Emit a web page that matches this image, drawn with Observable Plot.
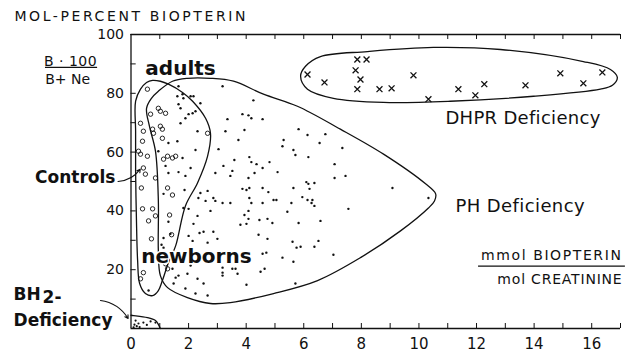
<!DOCTYPE html>
<html><head><meta charset="utf-8">
<script src="https://cdn.jsdelivr.net/npm/d3@7"></script>
<script src="https://cdn.jsdelivr.net/npm/@observablehq/plot@0.6"></script>
<style>body{margin:0;background:#fff;}</style>
</head><body>
<script>
// ---- data (x: mmol biopterin / mol creatinine, y: mol-percent biopterin) ----
const phDots = [[1.65,82.4],[3.18,82.4],[1.61,79.0],[1.79,79.7],[1.82,78.3],[2.07,79.0],[2.17,79.0],[2.41,76.6],[1.65,76.3],[1.72,74.9],[2.00,72.9],[2.14,73.2],[2.24,73.9],[1.89,71.5],[1.72,69.8],[3.35,71.2],[2.31,67.1],[3.28,67.1],[1.30,63.1],[1.61,63.7],[2.24,60.7],[3.04,61.0],[1.79,58.0],[0.95,60.3],
[1.20,55.3],[1.30,52.9],[1.65,53.2],[2.07,54.6],[1.89,51.9],[2.93,52.9],[3.21,55.3],[3.52,53.6],[1.13,45.8],[1.86,47.1],[2.41,46.1],[2.66,46.8],[2.34,44.4],[2.59,43.4],[2.86,44.4],[2.93,43.4],[2.76,40.0],[3.18,42.7],[3.45,42.7],[1.82,41.0],[2.00,40.7],[2.31,38.3],[1.30,36.3],[2.17,35.6],[2.38,32.5],[2.52,32.9],[2.86,32.9],[1.13,30.8],[2.00,31.5],[2.14,29.8],[2.66,29.2],[3.00,30.5],[1.06,28.5],
[1.44,20.3],[1.55,17.3],[1.65,18.0],[1.96,18.6],[2.07,21.4],[2.31,16.9],[2.52,15.3],[1.89,13.6],[1.48,15.3],[0.61,12.9],[3.18,20.7],[3.18,19.0],[3.18,18.0],[3.52,20.3],[2.66,11.2],[2.24,11.9],[1.13,27.5],[1.37,32.2],
[4.25,77.6],[3.87,72.9],[4.08,72.5],[4.18,71.5],[4.57,71.2],[3.94,67.5],[3.73,64.1],[5.82,67.8],[6.13,65.8],[6.75,66.1],[6.55,63.1],[5.30,64.1],[5.26,62.0],[5.64,60.7],[5.71,59.0],[6.16,58.3],[7.07,55.9],[3.59,57.3],[4.11,58.3],[4.18,56.6],[4.36,55.9],[4.81,56.6],[4.57,54.6],
[5.09,53.2],[4.29,52.9],[3.45,51.9],[4.08,51.2],[3.87,47.5],[4.01,47.1],[4.11,47.8],[4.57,47.8],[4.77,46.4],[5.64,47.8],[6.09,49.8],[6.16,49.2],[6.37,49.5],[6.20,47.5],[7.07,51.2],[5.95,44.7],[6.13,43.7],[6.30,43.7],[6.27,42.7],[6.37,41.7],[5.57,42.7],[4.95,43.7],[5.05,43.7],[4.11,44.4],[4.18,42.7],[4.57,42.7],[4.08,40.0],[3.94,38.6],[5.43,39.7],[4.08,37.3],[4.46,36.9],[4.74,37.3],[3.80,35.3],[4.01,35.6],[4.91,35.9],[5.82,35.9],[6.58,36.6],[4.43,31.9],[4.74,30.5],[5.61,29.5],[6.51,29.8],[5.75,27.5],[5.89,27.8],[6.37,27.8],[4.57,25.4],[4.70,25.8],
[5.26,24.1],[5.64,22.7],[7.03,25.1],[3.63,20.3],[3.70,18.6],[4.50,19.3],[4.64,20.3],[4.01,14.9],[5.71,15.3],
[7.34,61.4],[7.45,51.9],[7.55,40.7],[9.08,47.8],[10.33,44.4]];

const controls = [[0.57,81.4],[0.68,72.9],[0.95,74.9],[1.02,73.9],[1.20,73.2],[0.33,69.8],[0.43,67.1],[0.75,67.8],[0.78,66.4],[1.02,68.8],[1.09,67.8],[1.09,64.7],[0.40,63.7],[0.26,60.3],[0.33,59.3],[0.57,58.6],[1.27,58.6],[1.44,58.0],[1.55,58.6],[2.66,66.4],[1.13,57.6],[0.43,54.6],[0.50,52.5],[0.85,51.2],[0.36,47.8],[1.27,47.8],[1.44,45.4],[0.40,40.7],[0.75,40.7],[0.61,36.6],[0.85,38.3],[1.34,38.6],[0.71,30.5],[1.41,31.9],[0.43,19.0],[0.33,16.9],[1.27,20.3],[1.20,22.0]];

const dhpr = [[6.13,86.4],[6.72,83.7],[7.86,91.5],[8.18,91.5],[7.80,87.8],[7.97,84.7],[7.86,81.4],[8.63,81.4],[9.05,81.7],[9.81,86.1],[10.33,78.0],[11.37,81.4],[11.96,79.3],[12.27,83.1],[13.70,82.7],[14.91,86.8],[15.71,83.4],[16.37,87.1]];

const bh2Dots = [[0.16,2.7],[0.26,1.7],[0.43,2.0],[0.68,2.4],[0.85,2.0],[0.09,0.4],[0.20,0.8],[0.30,0.5],[0.12,1.3],[0.55,1.2]];

// envelopes
const loopControls = [[0.16,77.3],[0.33,81.4],[0.54,83.7],[0.75,84.4],[1.02,84.1],[1.30,83.1],[1.79,80.3],[2.14,77.3],[2.59,71.5],[2.76,66.4],[2.66,58.6],[2.31,49.5],[1.89,41.7],[1.55,28.1],[1.30,22.4],[1.09,16.3],[0.95,12.9],[0.75,11.2],[0.50,11.9],[0.30,15.3],[0.23,23.1],[0.19,36.6],[0.16,53.6],[0.16,67.1]];
const loopPH = [[0.54,74.9],[0.71,78.3],[0.95,80.7],[1.44,84.1],[1.96,85.1],[2.76,85.1],[3.56,84.1],[4.60,79.7],[5.78,75.6],[7.27,67.8],[8.77,59.3],[10.23,49.2],[10.58,45.8],[10.54,43.4],[10.33,41.0],[9.36,33.2],[7.97,24.1],[6.48,16.3],[4.95,11.9],[3.45,8.8],[2.76,8.5],[1.96,10.5],[1.27,13.9],[1.02,18.0],[0.95,26.4],[0.95,43.4],[0.85,60.3],[0.64,68.8]];
const loopDHPR = [[5.89,85.8],[6.06,89.2],[6.58,92.5],[8.21,94.2],[10.5,95.6],[12.83,94.9],[15.71,90.8],[16.65,88.1],[16.89,85.4],[16.72,82.7],[16.30,81.4],[13.98,79.0],[11.09,77.3],[8.77,76.9],[7.03,78.3],[6.13,81.4]];
const loopBH2 = [[0,4.5],[0.09,4.4],[0.57,3.7],[0.85,2.7],[0.95,1.4],[1.02,0]];

const xTicks = d3.range(0, 17, 2);
const xMinor = d3.range(1, 18);
const yTicks = [20, 40, 60, 80, 100];
const yMinor = d3.range(10, 101, 10);

const X = d => d[0], Y = d => d[1];
const ink = "#111";

const chart = Plot.plot({
  width: 633, height: 355,
  marginLeft: 130.5, marginRight: 13, marginTop: 34, marginBottom: 27,
  x: {domain: [0, 17]},
  y: {domain: [0, 100]},
  style: {fontFamily: "DejaVu Sans", background: "white", color: ink},
  marks: [
    // frame
    Plot.ruleY([0, 100], {x1: 0, x2: 17, stroke: ink, strokeWidth: 1.3}),
    Plot.ruleX([0], {y1: 0, y2: 100, stroke: ink, strokeWidth: 1.3}),
    Plot.ruleX(xMinor, {x: d => d, y1: 0, y2: 1.7, stroke: ink, strokeWidth: 1}),
    Plot.ruleX(xMinor, {x: d => d, y1: 100, y2: 98.3, stroke: ink, strokeWidth: 1}),
    Plot.ruleY(yMinor, {y: d => d, x1: 0, x2: 0.18, stroke: ink, strokeWidth: 1}),
    Plot.axisX({ticks: xTicks, tickSize: 0, tickPadding: 10, fontSize: 15, label: null}),
    Plot.axisY({ticks: yTicks, tickSize: 0, tickPadding: 7, fontSize: 14, label: null}),
    // envelopes
    Plot.line(loopControls, {x: X, y: Y, curve: "catmull-rom-closed", stroke: ink, strokeWidth: 1.3}),
    Plot.line(loopPH, {x: X, y: Y, curve: "catmull-rom-closed", stroke: ink, strokeWidth: 1.3}),
    Plot.line(loopDHPR, {x: X, y: Y, curve: "catmull-rom-closed", stroke: ink, strokeWidth: 1.3}),
    Plot.line(loopBH2, {x: X, y: Y, curve: "catmull-rom", stroke: ink, strokeWidth: 1.3}),
    // points
    Plot.dot(phDots, {x: X, y: Y, r: 1.2, fill: ink}),
    Plot.dot(bh2Dots, {x: X, y: Y, r: 1.1, fill: ink}),
    Plot.dot(controls, {x: X, y: Y, r: 2.2, stroke: ink, strokeWidth: 0.9, fill: "none"}),
    Plot.dot(dhpr, {x: X, y: Y, symbol: "times", r: 2.8, stroke: ink, strokeWidth: 1.3}),
    // labels
    Plot.text(["MOL-PERCENT BIOPTERIN"], {x: -4.05, y: 106.1, text: d => d, textAnchor: "start", fontSize: 14}),
    Plot.text(["B · 100"], {x: -2.10, y: 90.8, text: d => d, fontSize: 14}),
    Plot.ruleY([88.8], {x1: -2.97, x2: -1.16, stroke: ink, strokeWidth: 1.2}),
    Plot.text(["B+ Ne"], {x: -2.20, y: 84.6, text: d => d, fontSize: 14}),
    Plot.text(["adults"], {x: 1.72, y: 88.3, text: d => d, fontSize: 20, fontWeight: "bold"}),
    Plot.text(["newborns"], {x: 2.27, y: 24.6, text: d => d, fontSize: 20, fontWeight: "bold", stroke: "white", strokeWidth: 3, fill: ink}),
    Plot.text(["Controls"], {x: -0.54, y: 51.2, text: d => d, textAnchor: "end", fontSize: 17, fontWeight: "bold"}),
    Plot.arrow([0], {x1: -0.45, y1: 50.0, x2: 0.32, y2: 54.2, bend: -25, headLength: 5, stroke: ink, strokeWidth: 1.1}),
    Plot.text(["BH"], {x: -4.08, y: 11.6, text: d => d, textAnchor: "start", fontSize: 17, fontWeight: "bold"}),
    Plot.text(["2-"], {x: -3.07, y: 10.4, text: d => d, textAnchor: "start", fontSize: 17, fontWeight: "bold"}),
    Plot.text(["Deficiency"], {x: -4.08, y: 2.7, text: d => d, textAnchor: "start", fontSize: 17, fontWeight: "bold"}),
    Plot.arrow([0], {x1: -1.06, y1: 9.5, x2: -0.1, y2: 3.4, bend: 25, headLength: 5, stroke: ink, strokeWidth: 1.1}),
    Plot.text(["DHPR Deficiency"], {x: 10.92, y: 71.5, text: d => d, textAnchor: "start", fontSize: 18}),
    Plot.text(["PH Deficiency"], {x: 11.27, y: 41.7, text: d => d, textAnchor: "start", fontSize: 18}),
    Plot.text(["mmol BIOPTERIN"], {x: 17.07, y: 24.8, text: d => d, textAnchor: "end", fontSize: 14}),
    Plot.ruleY([21.2], {x1: 12.07, x2: 17.17, stroke: ink, strokeWidth: 1.2}),
    Plot.text(["mol CREATININE"], {x: 17.07, y: 16.6, text: d => d, textAnchor: "end", fontSize: 14})
  ]
});
document.body.appendChild(chart);

// letter spacing to imitate the plotter lettering
const spacing = {"MOL-PERCENT BIOPTERIN": "2.6px", "mmol BIOPTERIN": "1.6px", "mol CREATININE": "0.8px", "DHPR Deficiency": "0.3px", "PH Deficiency": "0.4px", "B · 100": "0.5px"};
d3.select(chart).selectAll("text").each(function() {
  const s = spacing[this.textContent];
  if (s) this.style.letterSpacing = s;
});
</script>
</body></html>
